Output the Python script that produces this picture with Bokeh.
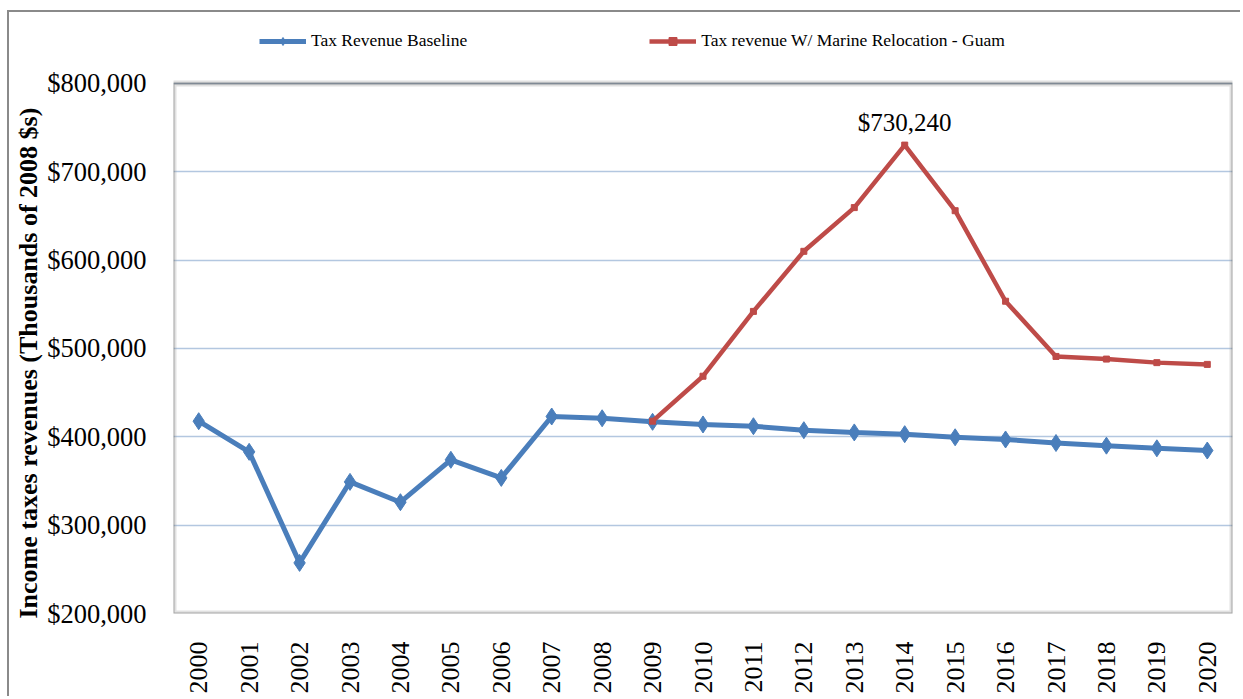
from bokeh.plotting import figure
from bokeh.models import (Range1d, FixedTicker, NumeralTickFormatter, Legend, LegendItem,
                          ColumnDataSource, BoxAnnotation, Title)
from bokeh.core.properties import value
from bokeh.embed import file_html
from bokeh.resources import INLINE
import math

# ---------------- data ----------------
years = list(range(2000, 2021))
year_labels = [str(y) for y in years]
baseline = [417700, 383000, 257300, 349000, 326000, 374000, 353500, 423000, 421000,
            417000, 414000, 412000, 407500, 405000, 403000, 399500, 397000, 393000,
            390000, 387000, 384500]
marine_years = list(range(2009, 2021))
marine = [417700, 468600, 542000, 610000, 659500, 730240, 656000, 553500, 491000,
          488000, 484000, 482000]
y_ticks = [200000, 300000, 400000, 500000, 600000, 700000, 800000]
y_min, y_max = 200000, 800000
series_names = ["Tax Revenue Baseline", "Tax revenue W/ Marine Relocation - Guam"]
y_title = "Income taxes revenues (Thousands of 2008 $s)"
peak_label = "$730,240"

FONT = "Liberation Serif"
BLUE = "#4A7EBB"
RED = "#BE4B48"

# frame extends above the plot box to host the legend row
y_top = y_max + 71300

p = figure(width=1233, height=686, output_backend="svg", toolbar_location=None,
           x_range=Range1d(1999.5, 2020.5), y_range=Range1d(y_min, y_top),
           min_border_left=164, min_border_right=10, min_border_top=8, min_border_bottom=85)
p.styles = {"margin-left": "7px", "margin-top": "10px",
            "border-top": "2px solid #8a8a8a", "border-left": "2px solid #8a8a8a"}

p.outline_line_color = None

# axes
p.xaxis.ticker = FixedTicker(ticks=years)
p.xaxis.major_label_overrides = {y: s for y, s in zip(years, year_labels)}
p.xaxis.major_label_orientation = math.pi / 2
p.xaxis.major_label_text_font = FONT
p.xaxis.major_label_text_font_size = "26px"
p.xaxis.major_label_text_color = "black"
p.xaxis.major_label_standoff = 22
p.xaxis.axis_line_color = None
p.xaxis.major_tick_line_color = None
p.xaxis.minor_tick_line_color = None

p.yaxis.ticker = FixedTicker(ticks=y_ticks)
p.yaxis.formatter = NumeralTickFormatter(format="$0,0")
p.yaxis.major_label_text_font = FONT
p.yaxis.major_label_text_font_size = "26.5px"
p.yaxis.major_label_text_color = "black"
p.yaxis.major_label_standoff = 21
p.yaxis.axis_line_color = None
p.yaxis.major_tick_line_color = None
p.yaxis.minor_tick_line_color = None

p.add_layout(Title(text=y_title, align="left", offset=-5, text_font=FONT,
                   text_font_size="26px", text_font_style="bold", text_color="black",
                   standoff=4), "left")

p.xgrid.grid_line_color = None
p.ygrid.grid_line_color = "#B3C7E0"
p.ygrid.grid_line_width = 1.5

# plot box (double-ish frame)
p.add_layout(BoxAnnotation(left=years[0] - 0.5, right=years[-1] + 0.5, bottom=y_min, top=y_max,
                           fill_alpha=0, line_color="#9a9a9a", line_width=6))
p.add_layout(BoxAnnotation(left=years[0] - 0.5, right=years[-1] + 0.5, bottom=y_min, top=y_max,
                           fill_alpha=0, line_color="#1a1a1a", line_width=2))

src_b = ColumnDataSource(dict(x=years, y=baseline))
src_m = ColumnDataSource(dict(x=marine_years, y=marine))

lb = p.line("x", "y", source=src_b, line_color=BLUE, line_width=5)
mb = p.scatter("x", "y", source=src_b, marker="diamond", size=17, color=BLUE)
lm = p.line("x", "y", source=src_m, line_color=RED, line_width=4.5)
mm = p.scatter("x", "y", source=src_m, marker="square", size=6, color=RED)

pk = marine.index(max(marine))
p.text(x=[marine_years[pk]], y=[marine[pk]], text=[peak_label], text_align="center",
       text_baseline="bottom", y_offset=-9, text_font=value(FONT),
       text_font_size="25px", text_color="black")

legend = Legend(items=[LegendItem(label=series_names[0], renderers=[lb, mb]),
                       LegendItem(label=series_names[1], renderers=[lm, mm])],
                orientation="horizontal", location=(86, 562),
                glyph_width=47, glyph_height=20, label_standoff=5, spacing=182,
                padding=5, margin=0, border_line_color=None, background_fill_alpha=0,
                label_text_font=FONT, label_text_font_size="17.5px", label_text_color="black")
p.add_layout(legend, "center")

open("out.html", "w").write(file_html(p, INLINE))
